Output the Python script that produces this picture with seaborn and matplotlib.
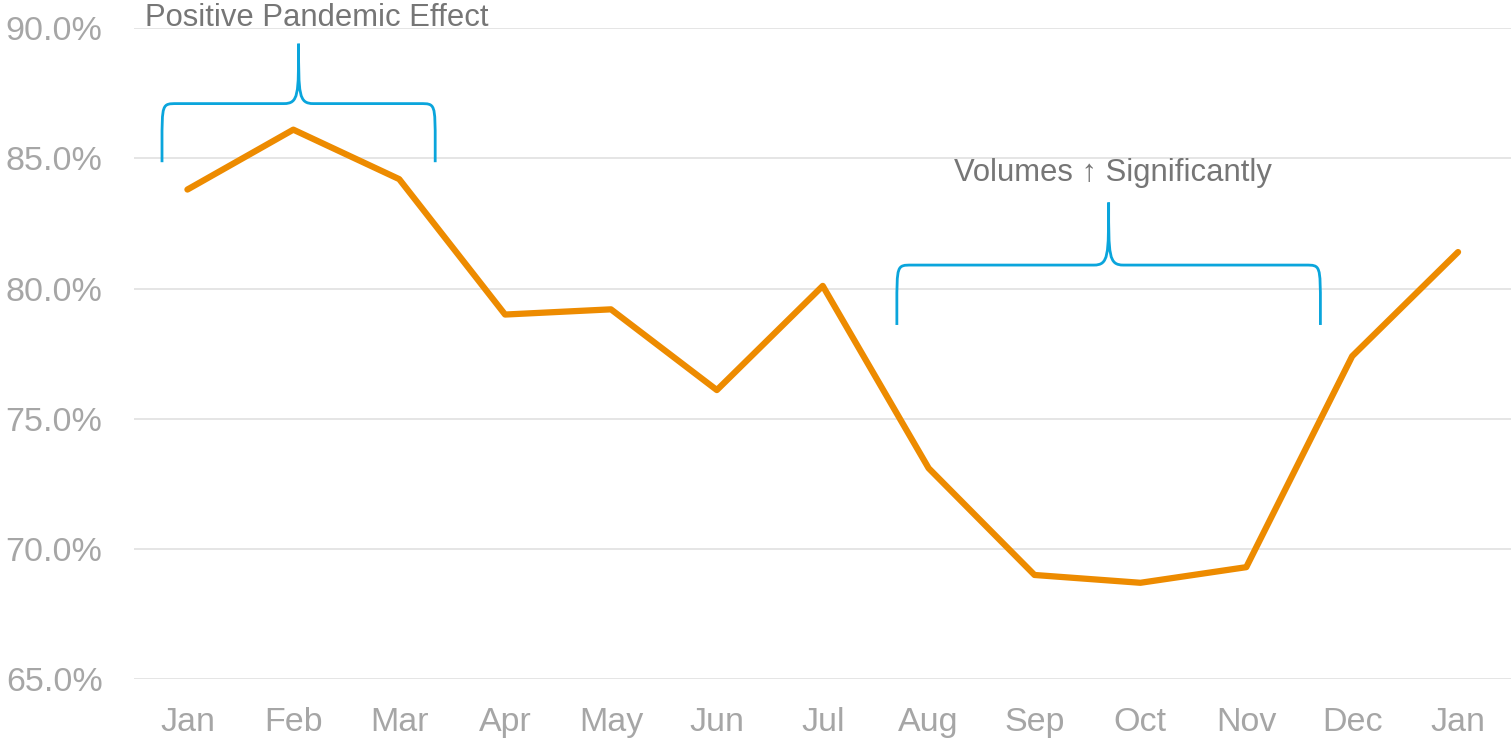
#!/usr/bin/env python3
"""
Monthly rate line chart with brace annotations.
"""

import numpy as np
import pandas as pd
import matplotlib
matplotlib.use("Agg")
import matplotlib.pyplot as plt
from matplotlib.path import Path
from matplotlib.patches import PathPatch
import seaborn as sns

# data
months = ["Jan", "Feb", "Mar", "Apr", "May", "Jun", "Jul",
          "Aug", "Sep", "Oct", "Nov", "Dec", "Jan"]
rates = [83.8, 86.1, 84.2, 79.0, 79.2, 76.1, 80.1,
         73.1, 69.0, 68.7, 69.3, 77.4, 81.4]
y_ticks = [65.0, 70.0, 75.0, 80.0, 85.0, 90.0]

# brace annotations: (x start, x end, bottom, bar level, tip), label, label pos
brace_spans = [(-0.24, 2.34, 84.85, 87.1, 89.4), (6.70, 10.70, 78.6, 80.9, 83.3)]
brace_labels = ["Positive Pandemic Effect", "Volumes \u2191 Significantly"]
label_pos = [(1.22, 90.38), (8.74, 84.42)]

LINE_C = "#ED8B00"
BRACE_C = "#0AA5DC"
TICK_C = "#A6A6A6"
NOTE_C = "#767676"


def brace_path(x0, x1, yb, yh, yt, r=0.14):
    """Curly brace opening downward, built from bezier segments."""
    xc = (x0 + x1) / 2
    mid = yb + 0.3 * (yh - yb)
    verts = [
        (x0, yb), (x0, mid),
        (x0, yh), (x0, yh), (x0 + r, yh),
        (xc - r, yh),
        (xc, yh), (xc, yh + 0.15 * (yt - yh)), (xc, yt),
        (xc, yh + 0.15 * (yt - yh)), (xc, yh), (xc + r, yh),
        (x1 - r, yh),
        (x1, yh), (x1, yh), (x1, mid),
        (x1, yb),
    ]
    codes = [Path.MOVETO, Path.LINETO,
             Path.CURVE4, Path.CURVE4, Path.CURVE4,
             Path.LINETO,
             Path.CURVE4, Path.CURVE4, Path.CURVE4,
             Path.CURVE4, Path.CURVE4, Path.CURVE4,
             Path.LINETO,
             Path.CURVE4, Path.CURVE4, Path.CURVE4,
             Path.LINETO]
    return Path(verts, codes)


if __name__ == "__main__":
    sns.set_style("white")
    plt.rcParams["font.family"] = ["Liberation Sans", "DejaVu Sans"]

    df = pd.DataFrame({"idx": np.arange(len(months)), "rate": rates})

    fig = plt.figure(figsize=(15.11, 7.39), dpi=100)
    ax = fig.add_axes([0.089, 0.081, 0.911, 0.881])

    sns.lineplot(data=df, x="idx", y="rate", color=LINE_C, linewidth=4.5,
                 sort=False, ax=ax)

    ax.set_xlim(-0.5, len(months) - 0.5)
    ax.set_ylim(65, 90)
    ax.set_xticks(df["idx"])
    ax.set_xticklabels(months)
    ax.set_yticks(y_ticks)
    ax.set_yticklabels([f"{v:.1f}%" for v in y_ticks])
    ax.tick_params(axis="both", colors=TICK_C, labelsize=24.5, length=0)
    ax.tick_params(axis="y", pad=23)
    ax.tick_params(axis="x", pad=20)
    ax.grid(axis="y", color="#E3E3E3", linewidth=1.3)
    ax.set_axisbelow(True)
    for s in ax.spines.values():
        s.set_visible(False)
    ax.set_xlabel("")
    ax.set_ylabel("")

    for span, txt, (tx, ty) in zip(brace_spans, brace_labels, label_pos):
        patch = PathPatch(brace_path(*span), facecolor="none",
                          edgecolor=BRACE_C, linewidth=2, clip_on=False)
        ax.add_patch(patch)
        ax.text(tx, ty, txt, ha="center", va="center", fontsize=22.3,
                color=NOTE_C, clip_on=False)

    fig.savefig("out.png", dpi=100)
    plt.close(fig)
